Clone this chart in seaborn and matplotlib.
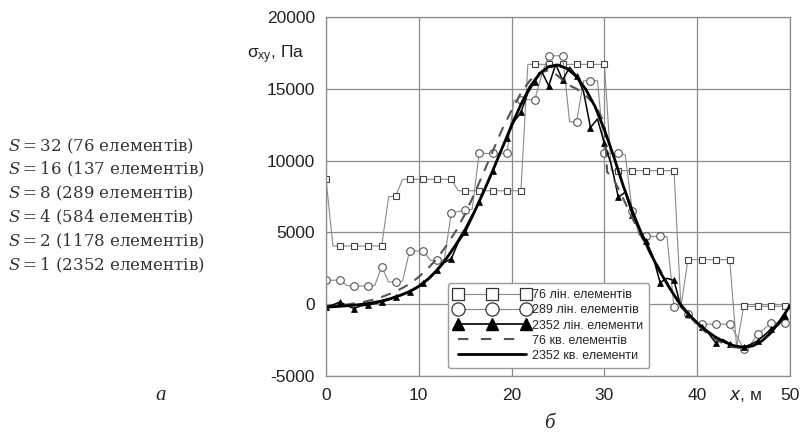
import numpy as np
import matplotlib
matplotlib.use('Agg')
import matplotlib.pyplot as plt
from matplotlib.lines import Line2D
import seaborn as sns

# nodes along x (m), markers on every second node
x_nodes = np.arange(0, 49.6, 0.75)

# 76 linear elements
sq76 = [8700, 4050, 4050, 4050, 4050, 4050, 4050, 4050,
        4050, 7500, 7500, 8700, 8700, 8700, 8700, 8700,
        8700, 8700, 8700, 7900, 7900, 7900, 7900, 7900,
        7900, 7900, 7900, 7900, 7900, 16700, 16700, 16700,
        16700, 16700, 16700, 16700, 16700, 16700, 16700, 16700,
        16700, 9300, 9300, 9300, 9300, 9300, 9300, 9300,
        9300, 9300, 9300, -200, 3100, 3100, 3100, 3100,
        3100, 3100, 3100, -3000, -150, -150, -150, -150,
        -150, -150, -150]

# 289 linear elements
circ289 = [1670, 1670, 1670, 1300, 1270, 1270, 1270, 1300,
           2600, 1550, 1550, 1600, 3700, 3700, 3700, 3050,
           3050, 3100, 6370, 6450, 6530, 6600, 10500, 10500,
           10500, 10500, 10500, 14200, 14240, 14240, 14240, 16000,
           17300, 17300, 17300, 12700, 12700, 15560, 15560, 15560,
           10500, 10500, 10500, 10400, 6500, 4800, 4720, 4720,
           4720, 4700, -190, -190, -700, -1350, -1390, -1390,
           -1390, -1390, -1390, -2200, -3100, -2800, -2100, -1700,
           -1300, -1300, -1320]

# 2352 linear elements
tri2352 = [-190, -50, 160, -100, -300, -120, -60, 40,
           150, 300, 480, 650, 850, 1100, 1450, 1850,
           2350, 2900, 3170, 4300, 5000, 6000, 7100, 8200,
           9300, 10500, 11600, 12700, 13350, 14700, 15500, 16200,
           15200, 16700, 15600, 16500, 15900, 14800, 12300, 12900,
           11200, 9700, 7450, 7800, 6200, 5200, 4400, 3300,
           1500, 1800, 1650, -200, -700, -1150, -1600, -2050,
           -2700, -2450, -2750, -2950, -3000, -2800, -2550, -2150,
           -1700, -1450, -800]

# 76 quadratic elements
dash_x = list(range(0, 31)) + [30.3] + list(range(31, 51))
quad76 = [-250, -150, -50, 50, 150, 300, 500, 750, 1050, 1400,
          1900, 2500, 3200, 4100, 5100, 6300, 7700, 9200, 10700, 12200,
          13500, 14700, 15600, 16100, 16300, 15900, 15300, 15000, 14500, 13900,
          12600, 9200,
          8700, 7400, 6000, 4700, 3500, 2400, 1200, 200, -700,
          -1400, -2000, -2450, -2800, -3000, -3050, -2900, -2500, -1900, -1100, -200]

# 2352 quadratic elements
smooth_x = list(range(0, 51))
quad2352 = [-200, -170, -120, -70, 0, 100, 220, 400, 620, 880,
            1250, 1750, 2400, 3200, 4150, 5200, 6450, 7850, 9350, 10900,
            12450, 13900, 15150, 16050, 16550, 16650, 16400, 15850, 14950, 13750,
            12150, 10300, 8300, 6500, 4900, 3500, 2250, 1150, 150, -650,
            -1300, -1850, -2300, -2650, -2900, -3000, -2900, -2550, -1950, -1100,
            -100]

legend_labels = ['76 лін. елементів', '289 лін. елементів', '2352 лін. елементи',
                 '76 кв. елементів', '2352 кв. елементи']
mesh_lines = ['$S = 32$ (76 елементів)', '$S = 16$ (137 елементів)',
              '$S = 8$ (289 елементів)', '$S = 4$ (584 елементів)',
              '$S = 2$ (1178 елементів)', '$S = 1$ (2352 елементів)']

sns.set_style('white')
plt.rcParams['font.family'] = ['Liberation Sans', 'DejaVu Sans']
plt.rcParams['axes.unicode_minus'] = False

fig, ax = plt.subplots(figsize=(8, 4.41), dpi=100)
fig.subplots_adjust(left=0.4075, right=0.9875, bottom=0.1474, top=0.9615)

grey = '#8a8a8a'
sns.lineplot(x=x_nodes, y=sq76, ax=ax, color=grey, lw=0.8, marker='s', ms=5,
             markevery=2, mfc='white', mec='#444444', mew=0.8, legend=False)
sns.lineplot(x=x_nodes, y=circ289, ax=ax, color=grey, lw=0.8, marker='o', ms=5.5,
             markevery=2, mfc='white', mec='#555555', mew=0.8, legend=False)
sns.lineplot(x=x_nodes, y=tri2352, ax=ax, color='black', lw=1.1, marker='^', ms=4.3,
             markevery=2, mfc='black', mec='black', mew=0.5, legend=False)
sns.lineplot(x=dash_x, y=quad76, ax=ax, color='#555555', lw=1.5, legend=False)
ax.lines[-1].set_dashes([5, 4])
sns.lineplot(x=smooth_x, y=quad2352, ax=ax, color='black', lw=2.0, legend=False)

ax.set_xlim(0, 50)
ax.set_ylim(-5000, 20000)
ax.set_xticks(range(0, 51, 10))
ax.set_yticks(range(-5000, 20001, 5000))
ax.set_xlabel('')
ax.set_ylabel('')
ax.grid(True, color=grey, lw=0.9)
ax.set_axisbelow(True)
for s in ax.spines.values():
    s.set_color(grey)
    s.set_linewidth(0.9)
ax.tick_params(axis='both', length=0, labelsize=12.5, colors='#222222')
ax.tick_params(axis='x', pad=9)
ax.tick_params(axis='y', pad=8)

handles = [
    Line2D([], [], color=grey, lw=0.8, marker='s', ms=9, mfc='white', mec='#333333', mew=0.9),
    Line2D([], [], color=grey, lw=0.8, marker='o', ms=9.5, mfc='white', mec='#333333', mew=0.9),
    Line2D([], [], color='black', lw=1.2, marker='^', ms=8, mfc='black', mec='black'),
    Line2D([], [], color='#555555', lw=1.5, dashes=[5, 6]),
    Line2D([], [], color='black', lw=2.0),
]
leg = ax.legend(handles, legend_labels, loc='lower left', bbox_to_anchor=(0.263, 0.022),
                numpoints=3, handlelength=6.0, fontsize=9, frameon=True, fancybox=True,
                edgecolor='#999999', framealpha=1, borderpad=0.5, labelspacing=0.25,
                handletextpad=0.2, borderaxespad=0)
leg.get_frame().set_linewidth(1.0)

fig.text(247 / 800, 1 - 55 / 441, r'$\mathregular{σ_{xy}}$, Па', fontsize=12.5,
         ha='left', va='center', color='#222222')
fig.text(746 / 800, 1 - 396 / 441, '$x$, м', fontsize=12.5, ha='center', va='center',
         math_fontfamily='dejavusans', color='#222222')

# left panel: mesh list
for i, t in enumerate(mesh_lines):
    fig.text(8 / 800, 1 - (146 + 23.8 * i) / 441, t, fontsize=12, ha='left', va='center',
             family='DejaVu Serif', math_fontfamily='dejavuserif', color='#333333')

fig.text(161 / 800, 1 - 396 / 441, 'а', fontsize=15, style='italic',
         family='Liberation Serif', ha='center', va='center')
fig.text(549 / 800, 1 - 424 / 441, 'б', fontsize=15, style='italic',
         family='Liberation Serif', ha='center', va='center')

fig.savefig('out.png', dpi=100)
